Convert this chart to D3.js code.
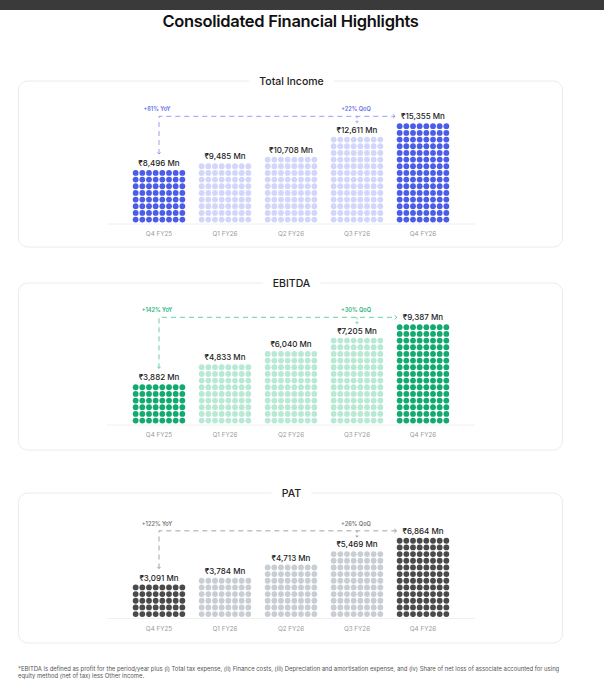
<!DOCTYPE html>
<html>
<head>
<meta charset="utf-8">
<title>Consolidated Financial Highlights</title>
<script src="https://d3js.org/d3.v7.min.js"></script>
<style>
  body { margin: 0; background: #fff; }
  text { font-family: Inter, "Noto Sans", sans-serif; }
</style>
</head>
<body>
<script>
// Data
const categories = ["Q4 FY25", "Q1 FY26", "Q2 FY26", "Q3 FY26", "Q4 FY26"];
const panelTitles = ["Total Income", "EBITDA", "PAT"];
const incomeValues = [8496, 9485, 10708, 12611, 15355];
const incomeRows = [8, 9, 10, 13, 15];
const ebitdaValues = [3882, 4833, 6040, 7205, 9387];
const ebitdaRows = [6, 9, 11, 13, 15];
const patValues = [3091, 3784, 4713, 5469, 6864];
const patRows = [5, 6, 8, 10, 12];
const yoyLabels = ["+81% YoY", "+142% YoY", "+122% YoY"];
const qoqLabels = ["+22% QoQ", "+30% QoQ", "+26% QoQ"];
const footnote = [
  "*EBITDA is defined as profit for the period/year plus (i) Total tax expense, (ii) Finance costs, (iii) Depreciation and amortisation expense, and (iv) Share of net loss of associate accounted for using",
  "equity method (net of tax) less Other income."
];

const W = 604, H = 680;
const dotCols = 8, pitch = 6.67, r = 2.9;

// panel layout + colour themes
const panels = [
  { title: panelTitles[0], values: incomeValues, rows: incomeRows, yoy: yoyLabels[0], qoq: qoqLabels[0],
    top: 81, bottom: 247, base: 223.5,
    dark: "#4b5ce7", light: "#d2d6fb", note: "#6670e8", dash: "#8d94f1" },
  { title: panelTitles[1], values: ebitdaValues, rows: ebitdaRows, yoy: yoyLabels[1], qoq: qoqLabels[1],
    top: 283, bottom: 450, base: 424.5,
    dark: "#12aa70", light: "#b8e9d5", note: "#27b37b", dash: "#5cc79c" },
  { title: panelTitles[2], values: patValues, rows: patRows, yoy: yoyLabels[2], qoq: qoqLabels[2],
    top: 493, bottom: 643, base: 618,
    dark: "#4a4a4a", light: "#c9ced4", note: "#777777", dash: "#9a9a9a" }
];

const svg = d3.select("body").append("svg")
  .attr("width", W)
  .attr("height", H);

// dark strip at the top of the page
svg.append("rect").attr("x", 0).attr("y", 0).attr("width", W).attr("height", 10).attr("fill", "#3a3a3a");

svg.append("text")
  .attr("x", 290.5).attr("y", 27)
  .attr("text-anchor", "middle")
  .attr("font-size", 16.5).attr("font-weight", 600)
  .attr("letter-spacing", "-0.3px")
  .attr("fill", "#111")
  .text("Consolidated Financial Highlights");

const x = d3.scalePoint().domain(categories).range([159, 423]);
const colOffset = d3.scaleLinear().domain([0, dotCols - 1]).range([-(dotCols - 1) / 2 * pitch, (dotCols - 1) / 2 * pitch]);
const fmt = v => "₹" + d3.format(",")(v) + " Mn";

panels.forEach(p => {
  const g = svg.append("g");

  // panel box
  g.append("rect")
    .attr("x", 18.5).attr("y", p.top)
    .attr("width", 544).attr("height", p.bottom - p.top)
    .attr("rx", 9)
    .attr("fill", "none")
    .attr("stroke", "#ececec");

  // title sitting on the border
  const tt = g.append("text")
    .attr("x", 291.5).attr("y", p.top + 3.8)
    .attr("text-anchor", "middle")
    .attr("font-size", 10.5).attr("font-weight", 500)
    .attr("fill", "#222")
    .text(p.title);
  const tw = tt.node().getComputedTextLength();
  g.insert("rect", "text")
    .attr("x", 291.5 - tw / 2 - 10).attr("y", p.top - 6)
    .attr("width", tw + 20).attr("height", 12)
    .attr("fill", "#fff");

  const maxRows = d3.max(p.rows);
  const y = d3.scaleLinear()
    .domain([0, maxRows])
    .range([p.base - 1 - r, p.base - 1 - r - maxRows * pitch]);

  // baseline
  g.append("line")
    .attr("x1", 107).attr("x2", 475)
    .attr("y1", p.base + 0.5).attr("y2", p.base + 0.5)
    .attr("stroke", "#f0f0f0");

  // dot columns
  categories.forEach((c, i) => {
    const cells = d3.range(p.rows[i] * dotCols).map(k => ({ row: Math.floor(k / dotCols), col: k % dotCols }));
    const hi = i === 0 || i === categories.length - 1;
    g.append("g").selectAll("circle")
      .data(cells)
      .join("circle")
      .attr("cx", d => x(c) + colOffset(d.col))
      .attr("cy", d => y(d.row))
      .attr("r", r)
      .attr("fill", hi ? p.dark : p.light);
  });

  const topEdge = i => y(p.rows[i] - 1) - r;

  // value labels
  const labels = g.selectAll(".val")
    .data(p.values)
    .join("text")
    .attr("class", "val")
    .attr("x", (d, i) => x(categories[i]))
    .attr("y", (d, i) => topEdge(i) - 4)
    .attr("text-anchor", "middle")
    .attr("font-size", 8).attr("font-weight", 500)
    .attr("fill", "#222")
    .text(d => fmt(d));

  // category labels
  g.selectAll(".cat")
    .data(categories)
    .join("text")
    .attr("class", "cat")
    .attr("x", d => x(d))
    .attr("y", p.base + 12.5)
    .attr("text-anchor", "middle")
    .attr("font-size", 6.3)
    .attr("fill", "#9a9a9a")
    .text(d => d);

  // YoY / QoQ annotation
  const last = categories.length - 1;
  const lineY = topEdge(last) - 7;
  const lastW = labels.nodes()[last].getComputedTextLength();
  const x0 = x(categories[0]);
  const xEnd = x(categories[last]) - lastW / 2 - 6;
  const yDown = topEdge(0) - 7 - 9;
  const xq = x(categories[last - 1]);
  const yq = topEdge(last - 1) - 7 - 7;

  g.append("path")
    .attr("d", `M${x0},${yDown}V${lineY}H${xEnd}`)
    .attr("fill", "none")
    .attr("stroke", p.dash)
    .attr("stroke-width", 0.9)
    .attr("stroke-dasharray", "5,4");
  g.append("path")
    .attr("d", `M${xq},${lineY}V${yq}`)
    .attr("fill", "none")
    .attr("stroke", p.dash)
    .attr("stroke-width", 0.9)
    .attr("stroke-dasharray", "2,2");

  // arrow heads
  g.append("path")
    .attr("d", `M${xEnd - 2.2},${lineY - 2}L${xEnd},${lineY}L${xEnd - 2.2},${lineY + 2}`)
    .attr("fill", "none").attr("stroke", p.dash).attr("stroke-width", 0.9);
  g.append("path")
    .attr("d", `M${x0 - 1.6},${yDown - 1.6}L${x0},${yDown}L${x0 + 1.6},${yDown - 1.6}`)
    .attr("fill", "none").attr("stroke", p.dash).attr("stroke-width", 0.9);
  g.append("path")
    .attr("d", `M${xq - 1.4},${yq - 1.4}L${xq},${yq}L${xq + 1.4},${yq - 1.4}`)
    .attr("fill", "none").attr("stroke", p.dash).attr("stroke-width", 0.9);

  g.append("text")
    .attr("x", x0 - 2).attr("y", lineY - 5)
    .attr("text-anchor", "middle")
    .attr("font-size", 5.6).attr("font-weight", 600)
    .attr("fill", p.note)
    .text(p.yoy);
  g.append("text")
    .attr("x", xq - 1).attr("y", lineY - 5)
    .attr("text-anchor", "middle")
    .attr("font-size", 5.6).attr("font-weight", 600)
    .attr("fill", p.note)
    .text(p.qoq);
});

// footnote
svg.selectAll(".foot")
  .data(footnote)
  .join("text")
  .attr("class", "foot")
  .attr("x", 18)
  .attr("y", (d, i) => 670.5 + i * 7.5)
  .attr("font-size", 5.9)
  .attr("fill", "#555")
  .text(d => d);
</script>
</body>
</html>
